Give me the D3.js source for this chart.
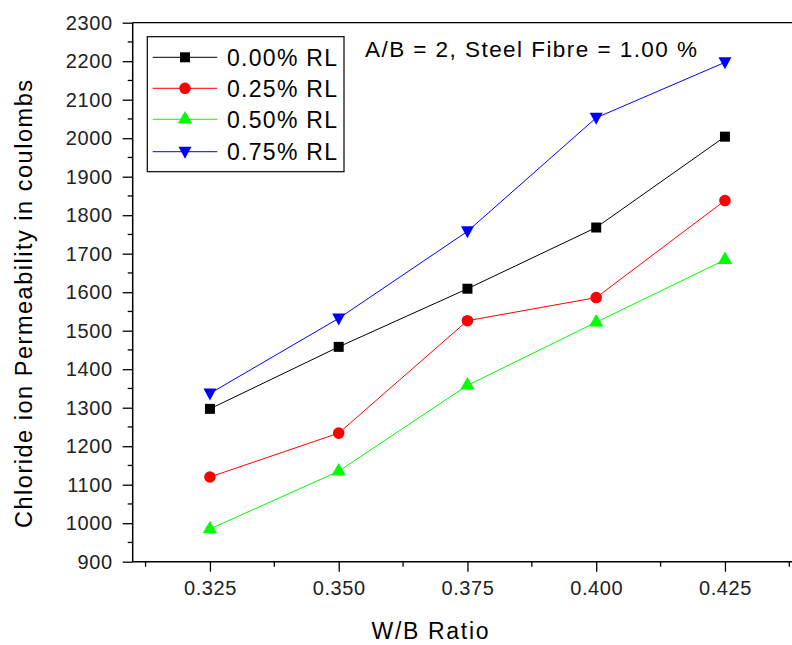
<!DOCTYPE html>
<html><head><meta charset="utf-8">
<script src="https://cdn.jsdelivr.net/npm/d3@7"></script>
<style>body{margin:0;background:#fff}svg{display:block;font-family:Arial,"Liberation Sans",sans-serif}</style>
</head><body><svg id="c" width="792" height="645"></svg>
<script>
const wb = [0.325, 0.350, 0.375, 0.400, 0.425];
const seriesNames = ["0.00% RL", "0.25% RL", "0.50% RL", "0.75% RL"];
const rl000 = [1297, 1458, 1609, 1768, 2004];
const rl025 = [1120, 1234, 1526, 1586, 1838];
const rl050 = [985, 1135, 1358, 1522, 1684];
const rl075 = [1337, 1532, 1758, 2053, 2197];
const yTicks = [900,1000,1100,1200,1300,1400,1500,1600,1700,1800,1900,2000,2100,2200,2300];
const xTickLabels = ["0.325","0.350","0.375","0.400","0.425"];
const colors = ["#000000","#ff0000","#00ff00","#0000ff"];
const symbols = ["square","circle","triangle","triangleDown"];
const values = [rl000, rl025, rl050, rl075];

const svg = d3.select("#c");
const L = 132.7, T = 22.7, B = 561.7;
const x = d3.scaleLinear().domain([0.31, 0.44]).range([L, L + 0.13*5150]);
const y = d3.scaleLinear().domain([900, 2300]).range([B, T]);

svg.append("line").attr("x1",L).attr("x2",800).attr("y1",T).attr("y2",T).attr("stroke","#000").attr("stroke-width",1.3);

const ya = svg.append("g").attr("transform",`translate(${L},0)`)
  .call(d3.axisLeft(y).tickValues(yTicks).tickFormat(d3.format("d")).tickSize(10).tickPadding(10));
ya.select(".domain").remove();
ya.selectAll("text").attr("font-size",20).attr("letter-spacing",0.6).attr("fill","#222").attr("font-family","Arial,'Liberation Sans',sans-serif");
ya.selectAll("line").attr("stroke","#000").attr("stroke-width",1.3);
const yMinor = d3.range(950, 2300, 100);
svg.append("g").selectAll("line").data(yMinor).join("line")
  .attr("x1",L-5).attr("x2",L).attr("y1",d=>y(d)).attr("y2",d=>y(d)).attr("stroke","#000").attr("stroke-width",1.3);
svg.append("line").attr("x1",L).attr("x2",L).attr("y1",T).attr("y2",B).attr("stroke","#000").attr("stroke-width",1.5);

const xa = svg.append("g").attr("transform",`translate(0,${B})`)
  .call(d3.axisBottom(x).tickValues(wb).tickFormat((d,i)=>xTickLabels[i]).tickSize(10).tickPadding(9));
xa.select(".domain").remove();
xa.selectAll("text").attr("font-size",20).attr("letter-spacing",0.6).attr("fill","#222").attr("font-family","Arial,'Liberation Sans',sans-serif");
xa.selectAll("line").attr("stroke","#000").attr("stroke-width",1.3);
const xMinor = [0.3125,0.3375,0.3625,0.3875,0.4125,0.4375];
svg.append("g").selectAll("line").data(xMinor).join("line")
  .attr("x1",d=>x(d)).attr("x2",d=>x(d)).attr("y1",B).attr("y2",B+5).attr("stroke","#000").attr("stroke-width",1.3);
svg.append("line").attr("x1",L).attr("x2",800).attr("y1",B).attr("y2",B).attr("stroke","#000").attr("stroke-width",1.5);

function sym(t){
  if(t==="square") return d3.symbol().type(d3.symbolSquare).size(100)();
  if(t==="circle") return d3.symbol().type(d3.symbolCircle).size(105)();
  if(t==="triangle") return d3.symbol().type(d3.symbolTriangle).size(90)();
  return "M-6.5,-5L6.5,-5L0,7Z";
}
const line = d3.line().x((d,i)=>x(wb[i])).y(d=>y(d));
values.forEach((vals,k)=>{
  svg.append("path").datum(vals).attr("d",line).attr("fill","none").attr("stroke",colors[k]).attr("stroke-width",1);
  svg.append("g").selectAll("path").data(vals).join("path")
    .attr("transform",(d,i)=>`translate(${x(wb[i])},${y(d)})`)
    .attr("d",sym(symbols[k])).attr("fill",colors[k]);
});

const lg = svg.append("g");
lg.append("rect").attr("x",147.3).attr("y",36.7).attr("width",196.7).attr("height",135).attr("fill","#fff").attr("stroke","#000").attr("stroke-width",1.2);
const rowY = [57.3, 88.3, 119.3, 151.7];
seriesNames.forEach((n,k)=>{
  lg.append("line").attr("x1",152.7).attr("x2",217.3).attr("y1",rowY[k]).attr("y2",rowY[k]).attr("stroke",colors[k]).attr("stroke-width",1);
  lg.append("path").attr("transform",`translate(185,${rowY[k]})`).attr("d",sym(symbols[k])).attr("fill",colors[k]);
  lg.append("text").attr("x",227).attr("y",rowY[k]+8.5).attr("font-size",23).attr("fill","#000")
    .attr("textLength",110).attr("lengthAdjust","spacing").text(n);
});

svg.append("text").attr("x",365).attr("y",57).attr("font-size",22.5).attr("fill","#000")
  .attr("textLength",332).attr("lengthAdjust","spacing").text("A/B = 2, Steel Fibre = 1.00 %");

svg.append("text").attr("x",430).attr("y",639).attr("text-anchor","middle").attr("font-size",23).attr("fill","#000")
  .attr("textLength",117).attr("lengthAdjust","spacing").text("W/B Ratio");
svg.append("text").attr("transform","translate(32,304) rotate(-90)").attr("text-anchor","middle").attr("font-size",23.5).attr("fill","#000")
  .attr("textLength",448).attr("lengthAdjust","spacing").text("Chloride ion  Permeability in coulombs");
</script></body></html>
